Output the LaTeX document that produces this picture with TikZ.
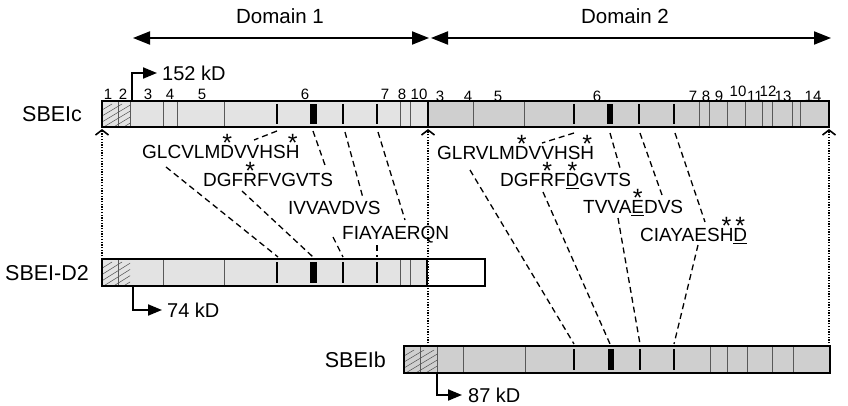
\documentclass[tikz,border=0pt]{standalone}
\usepackage{fontspec}
\setmainfont{Liberation Sans}
\usetikzlibrary{arrows.meta}

% letter with an asterisk set above it
\newcommand\mkstar[1]{\ooalign{#1\cr\hidewidth\raisebox{0.36em}{\fontsize{25}{25}\selectfont *}\hidewidth\cr}}

\tikzset{
  seq/.style={anchor=west, inner sep=0pt, font=\fontsize{19}{22}\selectfont},
  protlabel/.style={inner sep=0pt, font=\fontsize{21.5}{24}\selectfont},
  domlabel/.style={inner sep=0pt, font=\fontsize{20.5}{24}\selectfont},
  exon/.style={inner sep=0pt, font=\fontsize{15}{17}\selectfont},
  kdlabel/.style={anchor=west, inner sep=0pt, font=\fontsize{20}{22}\selectfont},
  barframe/.style={draw, line width=2.2pt},
  septhin/.style={line width=0.6pt, black!65},
  sepbold/.style={line width=2.2pt},
  motifbox/.style={fill=black, draw=none},
  link/.style={line width=1.3pt, dash pattern=on 6pt off 4pt},
  guide/.style={line width=1.3pt, dash pattern=on 1.3pt off 1.4pt,
    -{Straight Barb[length=5pt,width=13pt,line width=1.6pt]}},
  domarrow/.style={line width=2pt,
    {Triangle[length=17pt,width=13pt]}-{Triangle[length=17pt,width=13pt]}},
  kdarrow/.style={line width=2pt, -{Triangle[length=14pt,width=11pt]}},
  hatch/.style={line width=0.5pt, black!70},
}

\begin{document}
\begin{tikzpicture}[x=1pt,y=-1pt]
\useasboundingbox[fill=white] (0,0) rectangle (848,406);

% ---------- domain arrows ----------
\coordinate (d1a) at (133,38);
\coordinate (d1b) at (429,38);
\coordinate (d2a) at (431,38);
\coordinate (d2b) at (831,38);
\draw[domarrow] (d1a) -- (d1b);
\draw[domarrow] (d2a) -- (d2b);
\node[domlabel] (dom1) at (280,16) {Domain 1};
\node[domlabel] (dom2) at (625,16) {Domain 2};

% ---------- SBEIc ----------
\fill[gray!22] (102,101) rectangle (428,127);
\fill[gray!38] (428,101) rectangle (829,127);
\begin{scope}
  \clip (102,101) rectangle (130,127);
  \foreach \s in {-40,-30,...,30} \draw[hatch] (102+\s,128) -- (142+\s,104);
\end{scope}
\foreach \x in {118,130,163,177,224,400,410} \draw[septhin] (\x,101) -- (\x,127);
\foreach \x in {473,524,699,709,727,745,762,772,792,800} \draw[septhin] (\x,101) -- (\x,127);
\foreach \x in {277,343,377,574,674} \draw[sepbold] (\x,104) -- (\x,124);
\draw[line width=1.5pt] (639,104) -- (639,124);
\fill[motifbox] (310,104) rectangle (317,124);
\fill[motifbox] (607,104) rectangle (613,124);
\draw[barframe] (102,101) rectangle (829,127);
\draw[line width=2pt] (428,101) -- (428,127);
\node[protlabel, anchor=west] (sbeic) at (22,114) {SBEIc};

% exon numbers
\foreach \x/\t in {108/1,123/2,148/3,170/4,202/5,305/6,385/7,402/8,419/10}
  \node[exon] at (\x,94) {\t};
\foreach \x/\t in {440/3,468/4,498/5,597/6,693/7,706/8,719/9,755/11,783/13,813/14}
  \node[exon] at (\x,96) {\t};
\foreach \x/\t in {738/10,768/12}
  \node[exon] at (\x,91) {\t};

% 152 kD start
\draw[kdarrow] (132,101) |- (157,73);
\node[kdlabel] (kd152) at (162,73) {152 kD};

% ---------- SBEI-D2 ----------
\fill[gray!22] (102,259) rectangle (427,286);
\begin{scope}
  \clip (102,259) rectangle (130,286);
  \foreach \s in {-40,-30,...,30} \draw[hatch] (102+\s,287) -- (142+\s,262);
\end{scope}
\foreach \x in {118,163,224,400,410} \draw[septhin] (\x,259) -- (\x,286);
\foreach \x in {277,343,377} \draw[sepbold] (\x,262) -- (\x,283);
\fill[motifbox] (310,262) rectangle (317,283);
\draw[line width=1.5pt] (427,259) -- (427,286);
\draw[barframe] (102,259) rectangle (485,286);
\node[protlabel, anchor=east] (sbeid2) at (89,273) {SBEI-D2};

\draw[kdarrow] (133,286) |- (162,310);
\node[kdlabel] (kd74) at (167,310) {74 kD};

% ---------- SBEIb ----------
\fill[gray!38] (404,346) rectangle (830,373);
\begin{scope}
  \clip (404,346) rectangle (437,373);
  \foreach \s in {-40,-30,...,40} \draw[hatch] (404+\s,374) -- (444+\s,350);
\end{scope}
\foreach \x in {420,437,463,525,710,727,747,772,793} \draw[septhin] (\x,346) -- (\x,373);
\foreach \x in {574,674} \draw[sepbold] (\x,349) -- (\x,370);
\draw[line width=1.5pt] (640,349) -- (640,370);
\fill[motifbox] (608,349) rectangle (614,370);
\draw[barframe] (404,346) rectangle (830,373);
\node[protlabel, anchor=east] (sbeib) at (386,360) {SBEIb};

\draw[kdarrow] (437,373) |- (462,395);
\node[kdlabel] (kd87) at (468,395) {87 kD};

% ---------- alignment guides ----------
\coordinate (g1b) at (102,259);  \coordinate (g1t) at (102,129);
\coordinate (g2b) at (428,346);  \coordinate (g2t) at (428,129);
\coordinate (g3b) at (829,346);  \coordinate (g3t) at (829,129);
\draw[guide] (g1b) -- (g1t);
\draw[guide] (g2b) -- (g2t);
\draw[guide] (g3b) -- (g3t);

% ---------- conserved motifs, domain 1 ----------
\node[seq] (m1) at (142,152) {GLCVLM\mkstar{D}VVHS\mkstar{H}};
\node[seq] (m2) at (203,180) {DGF\mkstar{R}FVGVTS};
\node[seq] (m3) at (288,208) {IVVAVDVS};
\node[seq] (m4) at (342,235) {FIAYAERQN};

\coordinate (a1s) at (277,131); \coordinate (a1e) at (254,140);
\coordinate (a2s) at (166,167); \coordinate (a2e) at (278,257);
\coordinate (b1s) at (313,131); \coordinate (b1e) at (326,168);
\coordinate (b2s) at (242,191); \coordinate (b2e) at (313,257);
\coordinate (c1s) at (345,132); \coordinate (c1e) at (363,198);
\coordinate (c2s) at (333,237); \coordinate (c2e) at (343,257);
\coordinate (d1s) at (378,132); \coordinate (d1e) at (405,220);
\coordinate (d2s) at (377,245); \coordinate (d2e) at (377,257);
\foreach \p in {a1,a2,b1,b2,c1,c2,d1,d2} \draw[link] (\p s) -- (\p e);

% ---------- conserved motifs, domain 2 ----------
\node[seq] (n1) at (437,153) {GLRVLM\mkstar{D}VVHS\mkstar{H}};
\node[seq] (n2) at (500,180) {DGF\mkstar{R}F\mkstar{\underline{D}}GVTS};
\node[seq] (n3) at (583,207) {TVVA\mkstar{\underline{E}}DVS};
\node[seq] (n4) at (640,235) {CIAYAES\mkstar{H}\mkstar{\underline{D}}};

\coordinate (e1s) at (574,133); \coordinate (e1e) at (542,143);
\coordinate (e2s) at (470,170); \coordinate (e2e) at (574,344);
\coordinate (f1s) at (610,133); \coordinate (f1e) at (620,168);
\coordinate (f2s) at (543,192); \coordinate (f2e) at (610,344);
\coordinate (h1s) at (640,133); \coordinate (h1e) at (662,195);
\coordinate (h2s) at (618,218); \coordinate (h2e) at (640,344);
\coordinate (k1s) at (675,133); \coordinate (k1e) at (705,222);
\coordinate (k2s) at (698,245); \coordinate (k2e) at (674,344);
\foreach \p in {e1,e2,f1,f2,h1,h2,k1,k2} \draw[link] (\p s) -- (\p e);
\end{tikzpicture}
\end{document}
